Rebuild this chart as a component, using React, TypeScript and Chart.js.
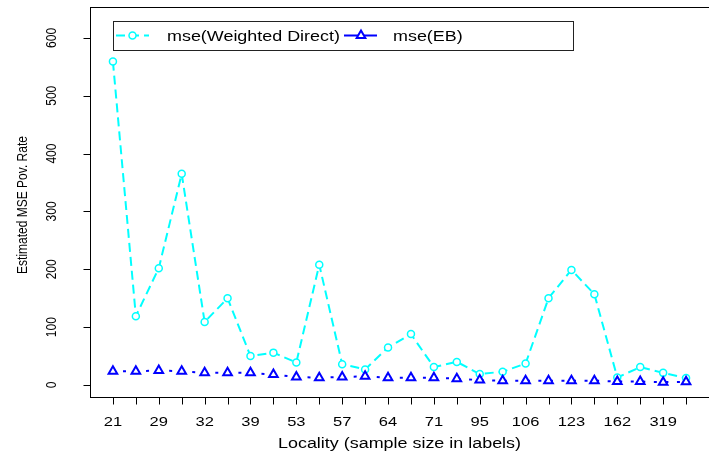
import React, { useEffect, useRef } from "react";
import { Chart, registerables } from "chart.js";

Chart.register(...registerables);

// ---- data ----
const xTickLabels = ["21", "29", "32", "39", "53", "57", "64", "71", "95", "106", "123", "162", "319"];
const weightedDirect = [559, 119, 202, 365, 109, 150, 50, 56, 39, 208, 36, 27, 65, 88, 31, 40, 19, 23, 37, 150, 199, 157, 13, 31, 21, 12];
const ebValues = [24, 24, 25, 24, 21, 21, 21, 18, 14, 12.5, 14, 15, 12.5, 12.5, 12.5, 11, 8.5, 7.5, 7.5, 7.5, 7.5, 7.5, 6, 6, 5, 5.5];
const yTicks = [0, 100, 200, 300, 400, 500, 600];
const seriesNames = ["mse(Weighted Direct)", "mse(EB)"];
const xTitle = "Locality (sample size in labels)";
const yTitle = "Estimated MSE Pov. Rate";

const CYAN = "#00FFFF";
const BLUE = "#0000FF";
const FONT = '"Liberation Sans", Arial, Helvetica, sans-serif';
const SX = 1.27;

function hText(ctx: CanvasRenderingContext2D, text: string, x: number, y: number, size: number, align: CanvasTextAlign, sx: number) {
  ctx.save();
  ctx.translate(x, y);
  ctx.scale(sx, 1);
  ctx.font = `${size}px ${FONT}`;
  ctx.textAlign = align;
  ctx.textBaseline = "alphabetic";
  ctx.fillStyle = "#000";
  ctx.fillText(text, 0, 0);
  ctx.restore();
}

function vText(ctx: CanvasRenderingContext2D, text: string, x: number, y: number, size: number, sx: number) {
  ctx.save();
  ctx.translate(x, y);
  ctx.scale(sx, 1);
  ctx.rotate(-Math.PI / 2);
  ctx.font = `${size}px ${FONT}`;
  ctx.textAlign = "center";
  ctx.textBaseline = "alphabetic";
  ctx.fillStyle = "#000";
  ctx.fillText(text, 0, 0);
  ctx.restore();
}

const axesPlugin = {
  id: "rAxes",
  afterDraw(chart: any) {
    const ctx: CanvasRenderingContext2D = chart.ctx;
    const area = chart.chartArea;
    const xs = chart.scales.x;
    const ys = chart.scales.y;
    ctx.save();
    ctx.strokeStyle = "#000";
    ctx.lineWidth = 1;
    // box
    const L = Math.round(area.left) + 0.5;
    const T = Math.round(area.top) + 0.5;
    const B = Math.round(area.bottom) + 0.5;
    const R = Math.round(area.right) + 0.5;
    ctx.strokeRect(L, T, R - L, B - T);
    // x ticks
    for (let i = 1; i <= weightedDirect.length; i++) {
      const px = Math.round(xs.getPixelForValue(i)) + 0.5;
      ctx.beginPath();
      ctx.moveTo(px, B);
      ctx.lineTo(px, B + 7);
      ctx.stroke();
    }
    xTickLabels.forEach((lab, k) => {
      const px = xs.getPixelForValue(1 + 2 * k);
      hText(ctx, lab, px, 426, 13, "center", SX);
    });
    // y ticks
    yTicks.forEach((v) => {
      const py = Math.round(ys.getPixelForValue(v)) + 0.5;
      ctx.beginPath();
      ctx.moveTo(L - 7, py);
      ctx.lineTo(L, py);
      ctx.stroke();
      vText(ctx, String(v), 56, ys.getPixelForValue(v), 12, 1.15);
    });
    // titles
    hText(ctx, xTitle, (area.left + area.right) / 2, 448, 14, "center", 1.28);
    vText(ctx, yTitle, 27, (area.top + area.bottom) / 2 + 3, 12, 1.2);

    // legend
    ctx.strokeStyle = "#222";
    ctx.lineWidth = 1;
    ctx.strokeRect(113.5, 21.5, 460, 29);
    const ly = 35.5;
    // item 1
    ctx.save();
    ctx.strokeStyle = CYAN;
    ctx.lineWidth = 2;
    ctx.setLineDash([9, 5]);
    ctx.beginPath();
    ctx.moveTo(116, ly);
    ctx.lineTo(149, ly);
    ctx.stroke();
    ctx.setLineDash([]);
    ctx.fillStyle = "#fff";
    ctx.lineWidth = 1.5;
    ctx.beginPath();
    ctx.arc(132.5, ly, 3.5, 0, Math.PI * 2);
    ctx.fill();
    ctx.stroke();
    ctx.restore();
    hText(ctx, seriesNames[0], 167, 40.5, 14, "left", 1.28);
    // item 2
    ctx.save();
    ctx.strokeStyle = BLUE;
    ctx.lineWidth = 2;
    ctx.beginPath();
    ctx.moveTo(344, ly);
    ctx.lineTo(377, ly);
    ctx.stroke();
    const r = 5;
    const cx = 361;
    ctx.beginPath();
    ctx.moveTo(cx, ly - r);
    ctx.lineTo(cx + r * Math.sin((2 * Math.PI) / 3), ly + r / 2);
    ctx.lineTo(cx - r * Math.sin((2 * Math.PI) / 3), ly + r / 2);
    ctx.closePath();
    ctx.fillStyle = "#fff";
    ctx.fill();
    ctx.stroke();
    ctx.restore();
    hText(ctx, seriesNames[1], 393, 40.5, 14, "left", 1.28);
    ctx.restore();
  },
};

export default function App() {
  const ref = useRef<HTMLCanvasElement | null>(null);
  useEffect(() => {
    const canvas = ref.current;
    if (!canvas) return;
    const chart = new Chart(canvas, {
      type: "line",
      data: {
        datasets: [
          {
            label: seriesNames[0],
            data: weightedDirect.map((v, i) => ({ x: i + 1, y: v })),
            borderColor: CYAN,
            borderWidth: 2,
            borderDash: [9, 5],
            pointStyle: "circle",
            pointRadius: 3.5,
            pointBorderWidth: 1.5,
            pointBorderColor: CYAN,
            pointBackgroundColor: "#fff",
            fill: false,
            tension: 0,
            order: 2,
          },
          {
            label: seriesNames[1],
            data: ebValues.map((v, i) => ({ x: i + 1, y: v })),
            borderColor: BLUE,
            borderWidth: 2,
            borderDash: [3, 8.55],
            borderDashOffset: 1.5,
            pointStyle: "triangle",
            pointRadius: 5,
            pointBorderWidth: 2,
            pointBorderColor: BLUE,
            pointBackgroundColor: "#fff",
            fill: false,
            tension: 0,
            order: 1,
          },
        ],
      },
      options: {
        responsive: false,
        animation: false,
        devicePixelRatio: 1,
        layout: { padding: { left: 90, top: 6, right: 2.4, bottom: 60 } },
        scales: {
          x: { type: "linear", min: 0, max: 27, display: false },
          y: { type: "linear", min: -20.7, max: 653.4, display: false },
        },
        plugins: { legend: { display: false }, tooltip: { enabled: false } },
      },
      plugins: [axesPlugin],
    } as any);
    return () => chart.destroy();
  }, []);
  return (
    <div style={{ position: "absolute", left: 0, top: 0, width: 709, height: 457, overflow: "hidden", background: "#fff" }}>
      <canvas ref={ref} width={716} height={457} style={{ display: "block" }} />
    </div>
  );
}
